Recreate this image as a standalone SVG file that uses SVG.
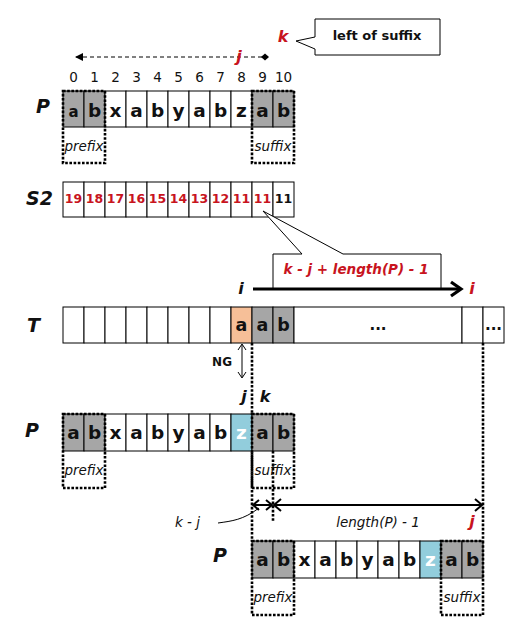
<svg xmlns="http://www.w3.org/2000/svg" width="523" height="642" viewBox="0 0 523 642">
<defs>
<style>
.c{fill:#fff;stroke:#000;stroke-width:1}
.g{fill:#A6A6A6;stroke:#000;stroke-width:1}
.o{fill:#F6BF98;stroke:#000;stroke-width:1}
.bl{fill:#92CDDC;stroke:#000;stroke-width:1}
.dot{fill:none;stroke:#000;stroke-width:2.6;stroke-dasharray:2.6 1.6}
.ch{font-family:"DejaVu Sans",Verdana,sans-serif;font-weight:bold;font-size:18.5px;text-anchor:middle;fill:#111}
.wz{fill:#fff}
.idx{font-family:"DejaVu Sans",Verdana,sans-serif;font-size:13.5px;text-anchor:middle;fill:#111}
.num{font-family:"DejaVu Sans",Verdana,sans-serif;font-weight:bold;font-size:12.5px;text-anchor:middle;fill:#C8141E}
.lab{font-family:"DejaVu Sans",Verdana,sans-serif;font-weight:bold;font-style:italic;font-size:19px;fill:#111}
.it{font-family:"DejaVu Sans",Verdana,sans-serif;font-style:italic;font-size:13.5px;fill:#111}
.var{font-family:"DejaVu Sans",Verdana,sans-serif;font-weight:bold;font-style:italic;font-size:16px;text-anchor:middle}
.red{fill:#C8141E}
.blk{fill:#111}
.thin{fill:none;stroke:#000;stroke-width:1}
.dim{fill:none;stroke:#000;stroke-width:2}
</style>
<marker id="fa" markerWidth="8" markerHeight="8" refX="1" refY="4" orient="auto" markerUnits="userSpaceOnUse">
<path d="M8,0 L0,4 L8,8 Z" fill="#000"/>
</marker>
<marker id="dia" markerWidth="8" markerHeight="8" refX="4" refY="4" orient="auto" markerUnits="userSpaceOnUse">
<path d="M0,4 L4,0.5 L8,4 L4,7.5 Z" fill="#000"/>
</marker>
</defs>

<g id="title-k">
<text class="var red" x="283" y="42">k</text>
<path d="M315,19 L440,19 L440,55 L315,55 L315,49 L296,41 L315,37 Z" fill="#fff" stroke="#000" stroke-width="1"/>
<text x="377" y="40" font-family="DejaVu Sans, Verdana, sans-serif" font-weight="bold" font-size="13" text-anchor="middle" fill="#111">left of suffix</text>
</g>

<g id="connectors">
<line x1="76" y1="57" x2="265" y2="57" stroke="#000" stroke-width="1" stroke-dasharray="4 3" marker-start="url(#fa)" marker-end="url(#dia)"/>
<line x1="253" y1="289" x2="460" y2="289" stroke="#000" stroke-width="3"/>
<path d="M451,282 L461,289 L451,296" fill="none" stroke="#000" stroke-width="3.2"/>
<line x1="242" y1="345" x2="242" y2="377" class="thin"/>
<path d="M238,350 L242,344 L246,350 M238,372 L242,378 L246,372" class="thin"/>
<line x1="252" y1="343" x2="252" y2="541" class="dot"/>
<line x1="483" y1="343" x2="483" y2="541" class="dot"/>
<line x1="273" y1="451" x2="273" y2="522" class="dot"/>
<line x1="253" y1="505" x2="272" y2="505" class="dim"/>
<path d="M259,500 L253,505 L259,510 M266,500 L272,505 L266,510" class="dim"/>
<line x1="274" y1="505" x2="482" y2="505" class="dim"/>
<path d="M281,499 L274,505 L281,511 M475,499 L482,505 L475,511" class="dim"/>
<path d="M218,523 C232,521 243,520 259,508" class="thin"/>
</g>

<g id="P-top">
<text class="lab" x="36" y="113">P</text>
<g class="idx">
<text x="73.5" y="82">0</text><text x="94.5" y="82">1</text><text x="115.5" y="82">2</text><text x="136.5" y="82">3</text><text x="157.5" y="82">4</text><text x="178.5" y="82">5</text><text x="199.5" y="82">6</text><text x="220.5" y="82">7</text><text x="241.5" y="82">8</text><text x="262.5" y="82">9</text><text x="283.5" y="82">10</text>
</g>
<rect class="g" x="63" y="91" width="21" height="36"/><rect class="g" x="84" y="91" width="21" height="36"/>
<rect class="c" x="105" y="91" width="21" height="36"/><rect class="c" x="126" y="91" width="21" height="36"/><rect class="c" x="147" y="91" width="21" height="36"/><rect class="c" x="168" y="91" width="21" height="36"/><rect class="c" x="189" y="91" width="21" height="36"/><rect class="c" x="210" y="91" width="21" height="36"/><rect class="c" x="231" y="91" width="21" height="36"/>
<rect class="g" x="252" y="91" width="21" height="36"/><rect class="g" x="273" y="91" width="21" height="36"/>
<g class="ch">
<text x="73.5" y="117" font-size="15">a</text><text x="94.5" y="117">b</text><text x="115.5" y="117">x</text><text x="136.5" y="117">a</text><text x="157.5" y="117">b</text><text x="178.5" y="117">y</text><text x="199.5" y="117">a</text><text x="220.5" y="117">b</text><text x="241.5" y="117">z</text><text x="262.5" y="117">a</text><text x="283.5" y="117">b</text>
</g>
<rect class="dot" x="63" y="91" width="42" height="72"/>
<rect class="dot" x="252" y="91" width="42" height="72"/>
<text class="it" x="84" y="151" text-anchor="middle">prefix</text>
<text class="it" x="273" y="151" text-anchor="middle">suffix</text>
<text class="var red" x="239" y="62">j</text>
</g>

<g id="S2">
<text class="lab" x="26" y="205">S2</text>
<rect class="c" x="63" y="182" width="21" height="35"/><rect class="c" x="84" y="182" width="21" height="35"/><rect class="c" x="105" y="182" width="21" height="35"/><rect class="c" x="126" y="182" width="21" height="35"/><rect class="c" x="147" y="182" width="21" height="35"/><rect class="c" x="168" y="182" width="21" height="35"/><rect class="c" x="189" y="182" width="21" height="35"/><rect class="c" x="210" y="182" width="21" height="35"/><rect class="c" x="231" y="182" width="21" height="35"/><rect class="c" x="252" y="182" width="21" height="35"/><rect class="c" x="273" y="182" width="21" height="35"/>
<g class="num">
<text x="73.5" y="203">19</text><text x="94.5" y="203">18</text><text x="115.5" y="203">17</text><text x="136.5" y="203">16</text><text x="157.5" y="203">15</text><text x="178.5" y="203">14</text><text x="199.5" y="203">13</text><text x="220.5" y="203">12</text><text x="241.5" y="203">11</text><text x="262.5" y="203">11</text><text x="283.5" y="203" fill="#111">11</text>
</g>
</g>

<g id="callout-formula">
<path d="M273,254 L302,254 L263,211 L343,254 L441,254 L441,288 L273,288 Z" fill="#fff" stroke="#000" stroke-width="1"/>
<text x="356" y="274" font-family="DejaVu Sans, Verdana, sans-serif" font-weight="bold" font-style="italic" font-size="13.5" text-anchor="middle" fill="#C8141E">k - j + length(P) - 1</text>
</g>

<g id="i-labels">
<text class="var blk" x="241" y="294">i</text>
<text class="var red" x="472" y="294">i</text>
</g>

<g id="T">
<text class="lab" x="27" y="332">T</text>
<rect class="c" x="63" y="307" width="21" height="36"/><rect class="c" x="84" y="307" width="21" height="36"/><rect class="c" x="105" y="307" width="21" height="36"/><rect class="c" x="126" y="307" width="21" height="36"/><rect class="c" x="147" y="307" width="21" height="36"/><rect class="c" x="168" y="307" width="21" height="36"/><rect class="c" x="189" y="307" width="21" height="36"/><rect class="c" x="210" y="307" width="21" height="36"/>
<rect class="o" x="231" y="307" width="21" height="36"/><rect class="g" x="252" y="307" width="21" height="36"/><rect class="g" x="273" y="307" width="21" height="36"/>
<rect class="c" x="294" y="307" width="168" height="36"/><rect class="c" x="462" y="307" width="21" height="36"/><rect class="c" x="483" y="307" width="21" height="36"/>
<g class="ch">
<text x="241.5" y="331" font-size="17.5">a</text><text x="262.5" y="331" font-size="17.5">a</text><text x="283.5" y="331" font-size="17.5">b</text>
<text x="378" y="330" font-size="15">...</text><text x="493.5" y="330" font-size="15">...</text>
</g>
</g>

<g id="NG">
<text x="232" y="366" font-family="DejaVu Sans, Verdana, sans-serif" font-weight="bold" font-size="12" text-anchor="end" fill="#111">NG</text>
</g>

<g id="P-mid">
<text class="lab" x="25" y="437">P</text>
<text class="var blk" x="244" y="402">j</text>
<text class="var blk" x="265" y="402">k</text>
<rect class="g" x="63" y="414" width="21" height="37"/><rect class="g" x="84" y="414" width="21" height="37"/>
<rect class="c" x="105" y="414" width="21" height="37"/><rect class="c" x="126" y="414" width="21" height="37"/><rect class="c" x="147" y="414" width="21" height="37"/><rect class="c" x="168" y="414" width="21" height="37"/><rect class="c" x="189" y="414" width="21" height="37"/><rect class="c" x="210" y="414" width="21" height="37"/>
<rect class="bl" x="231" y="414" width="21" height="37"/>
<rect class="g" x="252" y="414" width="21" height="37"/><rect class="g" x="273" y="414" width="21" height="37"/>
<g class="ch">
<text x="73.5" y="439">a</text><text x="94.5" y="439">b</text><text x="115.5" y="439">x</text><text x="136.5" y="439">a</text><text x="157.5" y="439">b</text><text x="178.5" y="439">y</text><text x="199.5" y="439">a</text><text x="220.5" y="439">b</text><text x="241.5" y="439" class="wz">z</text><text x="262.5" y="439">a</text><text x="283.5" y="439">b</text>
</g>
<rect class="dot" x="63" y="414" width="42" height="74"/>
<rect class="dot" x="252" y="414" width="42" height="74"/>
<text class="it" x="84" y="475" text-anchor="middle">prefix</text>
<text class="it" x="273" y="475" text-anchor="middle">suffix</text>
</g>

<g id="dim-labels">
<text class="it" x="175" y="527">k - j</text>
<text class="it" x="378" y="527" text-anchor="middle">length(P) - 1</text>
<text class="var red" x="472" y="527">j</text>
</g>

<g id="P-bottom">
<text class="lab" x="213" y="562">P</text>
<rect class="g" x="252" y="541" width="21" height="37"/><rect class="g" x="273" y="541" width="21" height="37"/>
<rect class="c" x="294" y="541" width="21" height="37"/><rect class="c" x="315" y="541" width="21" height="37"/><rect class="c" x="336" y="541" width="21" height="37"/><rect class="c" x="357" y="541" width="21" height="37"/><rect class="c" x="378" y="541" width="21" height="37"/><rect class="c" x="399" y="541" width="21" height="37"/>
<rect class="bl" x="420" y="541" width="21" height="37"/>
<rect class="g" x="441" y="541" width="21" height="37"/><rect class="g" x="462" y="541" width="21" height="37"/>
<g class="ch">
<text x="262.5" y="566">a</text><text x="283.5" y="566">b</text><text x="304.5" y="566">x</text><text x="325.5" y="566">a</text><text x="346.5" y="566">b</text><text x="367.5" y="566">y</text><text x="388.5" y="566">a</text><text x="409.5" y="566">b</text><text x="430.5" y="566" class="wz">z</text><text x="451.5" y="566">a</text><text x="472.5" y="566">b</text>
</g>
<rect class="dot" x="252" y="541" width="42" height="74"/>
<rect class="dot" x="441" y="541" width="42" height="74"/>
<text class="it" x="273" y="602" text-anchor="middle">prefix</text>
<text class="it" x="462" y="602" text-anchor="middle">suffix</text>
</g>
</svg>
